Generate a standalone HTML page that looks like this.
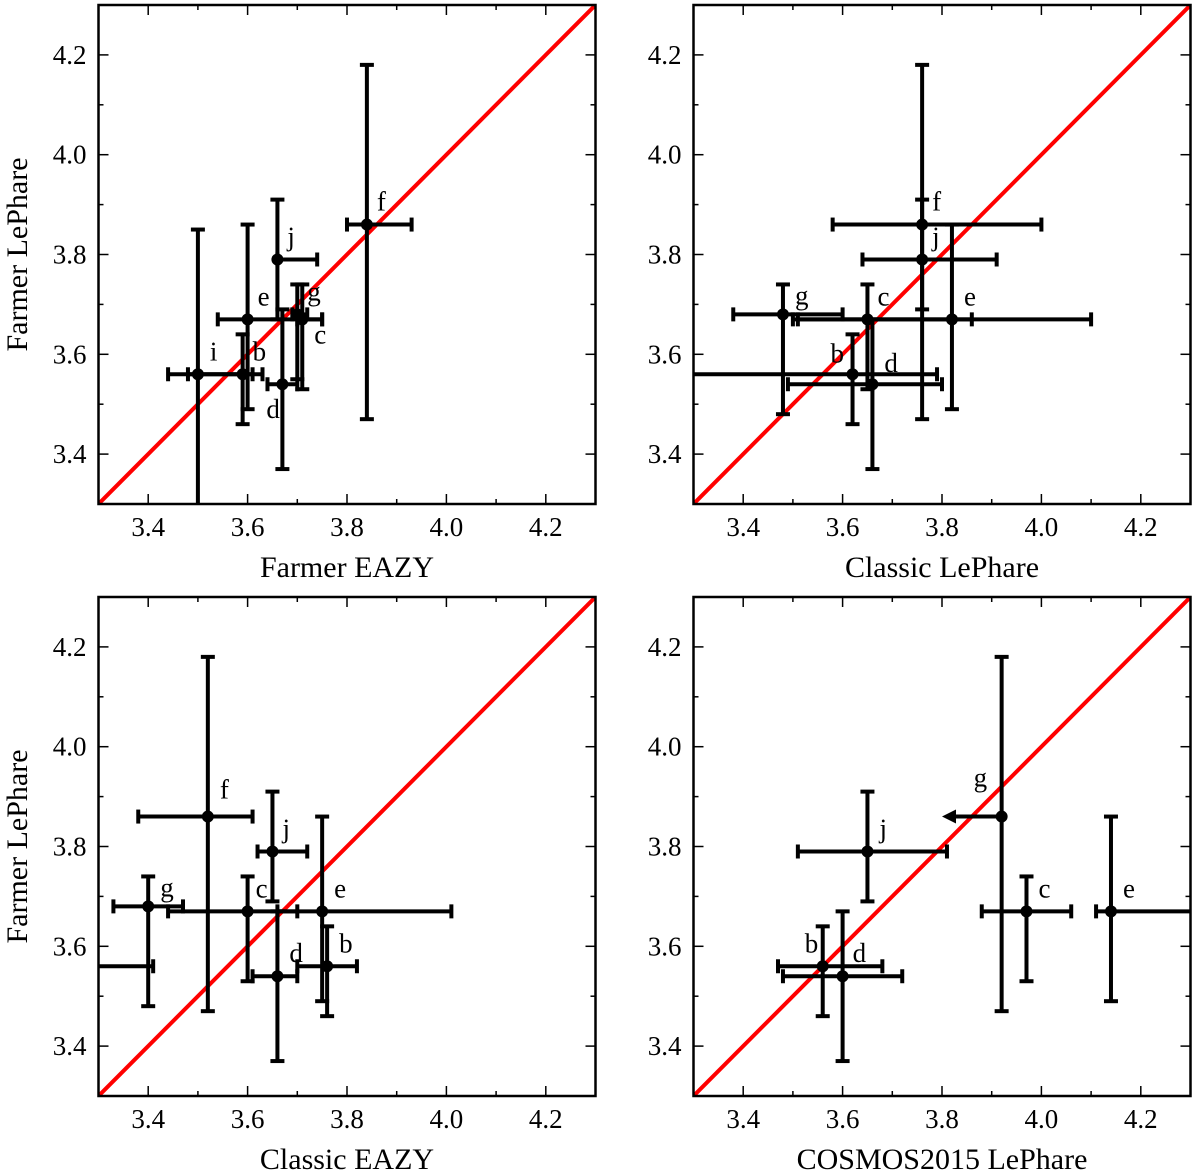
<!DOCTYPE html>
<html><head><meta charset="utf-8"><style>
body{margin:0;background:#fff}
svg{display:block}
text{font-family:"Liberation Serif",serif;fill:#000}
</style></head><body>
<svg id="fig" width="1200" height="1174" viewBox="0 0 1200 1174" xmlns="http://www.w3.org/2000/svg"></svg>
<script>
const xTicks=[3.4,3.6,3.8,4.0,4.2];
const yTicks=[3.4,3.6,3.8,4.0,4.2];
const tickLabels=["3.4","3.6","3.8","4.0","4.2"];
const xTitles=["Farmer EAZY","Classic LePhare","Classic EAZY","COSMOS2015 LePhare"];
const p1Names=["i","b","d","e","c","g","j","f"];
const p1X=[3.50,3.59,3.67,3.60,3.71,3.70,3.66,3.84];
const p1Y=[3.56,3.56,3.54,3.67,3.67,3.68,3.79,3.86];
const p1Xlo=[3.44,3.48,3.64,3.54,3.70,3.69,3.66,3.80];
const p1Xhi=[3.63,3.61,3.70,3.75,3.75,3.72,3.74,3.93];
const p1Ylo=[3.25,3.46,3.37,3.49,3.53,3.55,3.67,3.47];
const p1Yhi=[3.85,3.64,3.69,3.86,3.74,3.74,3.91,4.18];
const p2Names=["g","c","e","b","d","j","f"];
const p2X=[3.48,3.65,3.82,3.62,3.66,3.76,3.76];
const p2Y=[3.68,3.67,3.67,3.56,3.54,3.79,3.86];
const p2Xlo=[3.38,3.50,3.51,3.10,3.49,3.64,3.58];
const p2Xhi=[3.60,3.86,4.10,3.79,3.80,3.91,4.00];
const p2Ylo=[3.48,3.53,3.49,3.46,3.37,3.69,3.47];
const p2Yhi=[3.74,3.74,3.86,3.64,3.67,3.91,4.18];
const p3Names=["g","i","f","c","j","d","e","b"];
const p3X=[3.40,3.10,3.52,3.60,3.65,3.66,3.75,3.76];
const p3Y=[3.68,3.56,3.86,3.67,3.79,3.54,3.67,3.56];
const p3Xlo=[3.33,3.00,3.38,3.44,3.62,3.61,3.66,3.70];
const p3Xhi=[3.47,3.41,3.61,3.70,3.72,3.70,4.01,3.82];
const p3Ylo=[3.48,3.56,3.47,3.53,3.69,3.37,3.49,3.46];
const p3Yhi=[3.74,3.56,4.18,3.74,3.91,3.67,3.86,3.64];
const p4Names=["b","d","j","g","c","e"];
const p4X=[3.56,3.60,3.65,3.92,3.97,4.14];
const p4Y=[3.56,3.54,3.79,3.86,3.67,3.67];
const p4Xlo=[3.47,3.48,3.51,3.92,3.88,4.11];
const p4Xhi=[3.68,3.72,3.81,3.92,4.06,4.40];
const p4Ylo=[3.46,3.37,3.69,3.47,3.53,3.49];
const p4Yhi=[3.64,3.67,3.91,4.18,3.74,3.86];
const p4Arrow=[null,null,null,3.80,null,null];
const p1Lab=[[12,-14],[10,-14],[-16,34],[10,-14],[12,24],[10,-14],[10,-14],[10,-14]];
const p2Lab=[[12,-10],[10,-14],[12,-14],[-22,-12],[12,-12],[10,-14],[10,-14],[10,-14]];
const p3Lab=[[12,-10],[10,-14],[12,-18],[8,-14],[10,-14],[12,-14],[12,-14],[12,-14]];
const p4Lab=[[-18,-14],[10,-14],[12,-14],[-28,-30],[12,-14],[12,-14]];

const panels=[
 {L:98.5,T:5,R:595.5,B:504,n:p1Names,x:p1X,y:p1Y,xl:p1Xlo,xh:p1Xhi,yl:p1Ylo,yh:p1Yhi,lab:p1Lab,ylab:true},
 {L:693.5,T:5,R:1190.5,B:504,n:p2Names,x:p2X,y:p2Y,xl:p2Xlo,xh:p2Xhi,yl:p2Ylo,yh:p2Yhi,lab:p2Lab,ylab:false},
 {L:98.5,T:597,R:595.5,B:1096,n:p3Names,x:p3X,y:p3Y,xl:p3Xlo,xh:p3Xhi,yl:p3Ylo,yh:p3Yhi,lab:p3Lab,ylab:true},
 {L:693.5,T:597,R:1190.5,B:1096,n:p4Names,x:p4X,y:p4Y,xl:p4Xlo,xh:p4Xhi,yl:p4Ylo,yh:p4Yhi,lab:p4Lab,ylab:false,arrow:p4Arrow}
];
const NS="http://www.w3.org/2000/svg";
const svg=document.getElementById('fig');
function mk(tag,attrs,parent){const e=document.createElementNS(NS,tag);for(const k in attrs)e.setAttribute(k,attrs[k]);(parent||svg).appendChild(e);return e;}
panels.forEach((P,pi)=>{
 const g=mk('g',{});
 
 
 const cp='clip'+pi;
 const cl=mk('clipPath',{id:cp},g);mk('rect',{x:P.L,y:P.T,width:P.R-P.L,height:P.B-P.T},cl);
 const sx=v=>P.L+(v-3.3)*(P.R-P.L);
 const sy=v=>P.B-(v-3.3)*(P.B-P.T);
 const d=mk('line',{x1:sx(3.3),y1:sy(3.3),x2:sx(4.3),y2:sy(4.3),stroke:'#f00','stroke-width':4,'clip-path':`url(#${cp})`},g);
 
 
 const pts=mk('g',{'clip-path':`url(#${cp})`},g);
 P.n.forEach((nm,i)=>{
  const eg=mk('g',{},pts);
  
  
  const cx=sx(P.x[i]),cy=sy(P.y[i]);
  const st={stroke:'#000','stroke-width':4};
  if(P.xh[i]>P.xl[i]){
   mk('line',Object.assign({x1:sx(P.xl[i]),y1:cy,x2:sx(P.xh[i]),y2:cy},st),eg);
   mk('line',Object.assign({x1:sx(P.xl[i]),y1:cy-7,x2:sx(P.xl[i]),y2:cy+7},st),eg);
   mk('line',Object.assign({x1:sx(P.xh[i]),y1:cy-7,x2:sx(P.xh[i]),y2:cy+7},st),eg);
  }
  if(P.yh[i]>P.yl[i]){
   mk('line',Object.assign({x1:cx,y1:sy(P.yl[i]),x2:cx,y2:sy(P.yh[i])},st),eg);
   mk('line',Object.assign({x1:cx-7,y1:sy(P.yl[i]),x2:cx+7,y2:sy(P.yl[i])},st),eg);
   mk('line',Object.assign({x1:cx-7,y1:sy(P.yh[i]),x2:cx+7,y2:sy(P.yh[i])},st),eg);
  }
  if(P.arrow&&P.arrow[i]!=null){
   const ax=sx(P.arrow[i]);
   mk('line',Object.assign({x1:cx,y1:cy,x2:ax+10,y2:cy},st),eg);
   mk('polygon',{points:`${ax},${cy} ${ax+14},${cy-7} ${ax+14},${cy+7}`,fill:'#000'},eg);
  }
  mk('circle',{cx:cx,cy:cy,r:6,fill:'#000'},eg);
  const t=mk('text',{x:cx+P.lab[i][0],y:cy+P.lab[i][1],'font-size':27},pts);
  t.textContent=nm;
  
  
 });
 const fr=mk('rect',{x:P.L,y:P.T,width:P.R-P.L,height:P.B-P.T,fill:'none',stroke:'#000','stroke-width':2.5},g);
 
 
 for(let k=0;k<=10;k++){
  const v=3.3+k*0.1;const major=[1,3,5,7,9].includes(k);const len=major?10:5;
  const X=sx(v),Y=sy(v);
  mk('line',{x1:X,y1:P.B,x2:X,y2:P.B-len,stroke:'#000','stroke-width':1.5},g);
  mk('line',{x1:X,y1:P.T,x2:X,y2:P.T+len,stroke:'#000','stroke-width':1.5},g);
  mk('line',{x1:P.L,y1:Y,x2:P.L+len,y2:Y,stroke:'#000','stroke-width':1.5},g);
  mk('line',{x1:P.R,y1:Y,x2:P.R-len,y2:Y,stroke:'#000','stroke-width':1.5},g);
 }
 xTicks.forEach((v,i)=>{
  const t=mk('text',{x:sx(v),y:P.B+32,'font-size':27,'text-anchor':'middle'},g);
  t.textContent=tickLabels[i];
  
  
 });
 yTicks.forEach((v,i)=>{
  const t=mk('text',{x:P.L-12,y:sy(v)+9,'font-size':27,'text-anchor':'end'},g);
  t.textContent=tickLabels[i];
  
  
 });
 const xt=mk('text',{x:(P.L+P.R)/2,y:P.B+73,'font-size':30,'text-anchor':'middle'},g);
 xt.textContent=xTitles[pi];
 
 
 if(P.ylab){
  const cy=(P.T+P.B)/2;
  const yt=mk('text',{x:27,y:cy,'font-size':30,'text-anchor':'middle',transform:`rotate(-90 27 ${cy})`},g);
  yt.textContent='Farmer LePhare';
  
  
 }
});
</script>
</body></html>
